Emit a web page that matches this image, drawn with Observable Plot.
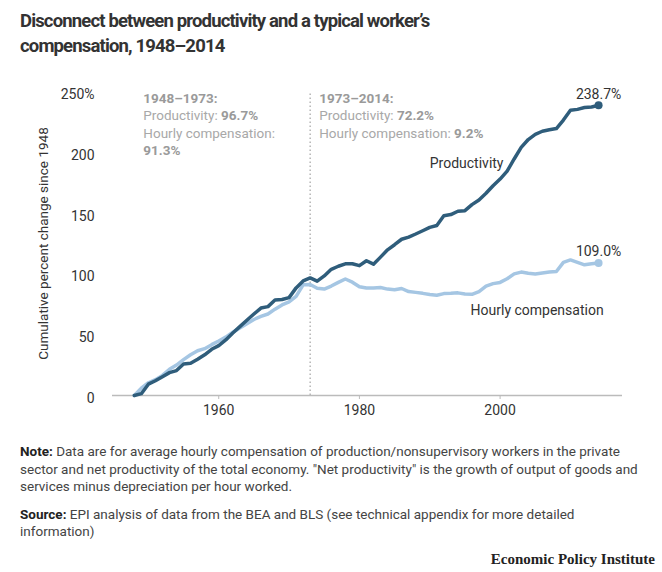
<!DOCTYPE html>
<html>
<head>
<meta charset="utf-8">
<script src="https://cdn.jsdelivr.net/npm/d3@7"></script>
<script src="https://cdn.jsdelivr.net/npm/@observablehq/plot@0.6"></script>
<style>
  html, body { margin: 0; padding: 0; background: #fff; }
  #wrap { position: relative; width: 662px; height: 572px; overflow: hidden; font-family: Roboto, "Open Sans", sans-serif; }
  #title { position: absolute; left: 20px; top: 9px; font-size: 18.5px; font-weight: 700; color: #333; line-height: 24.5px; letter-spacing: -0.85px; }
  #chart { position: absolute; left: 0; top: 70px; }
  #notes { position: absolute; left: 20px; top: 443px; font-size: 13.5px; color: #444; line-height: 17.5px; }
  #notes div { white-space: nowrap; }
  #notes b { color: #222; }
  #notes .gap { height: 10px; }
  #footer { position: absolute; right: 7px; top: 551px; font-family: "Liberation Serif", "DejaVu Serif", serif; font-weight: 700; font-size: 15px; color: #222; }
</style>
</head>
<body>
<div id="wrap">
  <div id="title">Disconnect between productivity and a typical worker’s<br>compensation, 1948–2014</div>
  <div id="chart"></div>
  <div id="notes">
    <div><b>Note:</b> Data are for average hourly compensation of production/nonsupervisory workers in the private</div>
    <div>sector and net productivity of the total economy. "Net productivity" is the growth of output of goods and</div>
    <div>services minus depreciation per hour worked.</div>
    <div class="gap"></div>
    <div><b>Source:</b> EPI analysis of data from the BEA and BLS (see technical appendix for more detailed</div>
    <div>information)</div>
  </div>
  <div id="footer">Economic Policy Institute</div>
</div>
<script>
// ---- Data (cumulative percent change since 1948) ----
const years = [
  1948, 1949, 1950, 1951, 1952, 1953, 1954, 1955, 1956, 1957,
  1958, 1959, 1960, 1961, 1962, 1963, 1964, 1965, 1966, 1967,
  1968, 1969, 1970, 1971, 1972, 1973, 1974, 1975, 1976, 1977,
  1978, 1979, 1980, 1981, 1982, 1983, 1984, 1985, 1986, 1987,
  1988, 1989, 1990, 1991, 1992, 1993, 1994, 1995, 1996, 1997,
  1998, 1999, 2000, 2001, 2002, 2003, 2004, 2005, 2006, 2007,
  2008, 2009, 2010, 2011, 2012, 2013, 2014
];
const productivity = [
  0.0, 1.5, 9.3, 12.1, 15.5, 18.8, 20.5, 25.9, 26.5, 29.8,
  33.5, 38.0, 41.0, 45.7, 51.4, 56.6, 61.9, 67.0, 71.9, 73.1,
  78.5, 78.9, 80.5, 88.5, 94.2, 96.7, 94.0, 98.3, 103.8, 106.3,
  108.3, 108.3, 106.8, 110.8, 108.0, 113.8, 119.8, 124.0, 128.5, 130.3,
  132.8, 135.5, 138.3, 139.8, 147.8, 148.8, 151.5, 152.0, 157.0, 160.8,
  166.3, 172.5, 178.0, 184.5, 194.5, 204.0, 210.5, 214.8, 217.3, 218.5,
  219.5, 226.5, 234.5, 235.3, 236.8, 237.3, 238.7
];
const hourlyCompensation = [
  0.0, 6.0, 10.5, 13.0, 16.5, 21.5, 25.0, 29.5, 33.5, 36.8,
  38.5, 41.8, 44.8, 48.0, 52.0, 55.5, 59.0, 62.5, 65.0, 67.0,
  71.0, 74.5, 77.0, 81.5, 91.0, 91.3, 88.2, 87.5, 90.0, 93.0,
  95.8, 93.2, 89.4, 88.4, 88.4, 88.8, 87.5, 87.0, 88.0, 85.5,
  84.8, 84.0, 83.0, 82.5, 83.8, 84.0, 84.4, 83.4, 83.2, 85.5,
  90.0, 92.0, 93.0, 96.0, 100.0, 101.5, 100.5, 100.0, 100.8, 101.5,
  102.0, 109.5, 111.5, 109.5, 107.5, 108.3, 109.0
];
const xTicks = [1960, 1980, 2000];
const yTicks = [0, 50, 100, 150, 200, 250];
const dividerYear = [1973];

// Period annotations
const periodStarts = [1948, 1973];
const periodLabels = ["1948–1973:", "1973–2014:"];
const periodProductivity = ["96.7%", "72.2%"];
const periodCompensation = ["91.3%", "9.2%"];

// ---- Build table ----
const rows = years.map((year, i) => ({year, productivity: productivity[i], compensation: hourlyCompensation[i]}));
const last = rows[rows.length - 1];

const prodColor = "#2f5d7b";
const compColor = "#a5c6e3";
const annoGray = "#a8a8a8";
const annoBold = "#9a9a9a";
const annoFont = 13.5;
const fontFamily = "Roboto, 'Open Sans', sans-serif";

// measure text widths for inline bold values
const ctx = document.createElement("canvas").getContext("2d");
ctx.font = `${annoFont}px Roboto`;
const w = (s) => ctx.measureText(s).width;

const annoDx = 9;
const lineDy = [7, 24.5, 42, 59.5];
const annoMarks = [];
periodStarts.forEach((start, i) => {
  const pos = [{x: start}];
  const base = {x: "x", frameAnchor: "top", textAnchor: "start", lineAnchor: "middle", fontSize: annoFont};
  annoMarks.push(Plot.text(pos, {...base, text: () => periodLabels[i], dx: annoDx, dy: lineDy[0], fill: annoBold, fontWeight: 700}));
  annoMarks.push(Plot.text(pos, {...base, text: () => "Productivity: ", dx: annoDx, dy: lineDy[1], fill: annoGray}));
  annoMarks.push(Plot.text(pos, {...base, text: () => periodProductivity[i], dx: annoDx + w("Productivity: "), dy: lineDy[1], fill: annoBold, fontWeight: 700}));
  if (i === 0) {
    annoMarks.push(Plot.text(pos, {...base, text: () => "Hourly compensation:", dx: annoDx, dy: lineDy[2], fill: annoGray}));
    annoMarks.push(Plot.text(pos, {...base, text: () => periodCompensation[i], dx: annoDx, dy: lineDy[3], fill: annoBold, fontWeight: 700}));
  } else {
    annoMarks.push(Plot.text(pos, {...base, text: () => "Hourly compensation: ", dx: annoDx, dy: lineDy[2], fill: annoGray}));
    annoMarks.push(Plot.text(pos, {...base, text: () => periodCompensation[i], dx: annoDx + w("Hourly compensation: "), dy: lineDy[2], fill: annoBold, fontWeight: 700}));
  }
});

const chart = Plot.plot({
  width: 662,
  height: 360,
  marginLeft: 112,
  marginRight: 40,
  marginTop: 21,
  marginBottom: 35,
  x: {domain: [1944.9, 2017.4]},
  y: {domain: [0, 250]},
  style: {fontFamily, fontSize: "14px", color: "#333", background: "transparent", overflow: "visible"},
  marks: [
    Plot.ruleX(dividerYear, {y1: 0, y2: 250, stroke: "#b5b5b5", strokeWidth: 1.5, strokeDasharray: "1.5,2.5"}),
    Plot.ruleY([0], {stroke: "#bbb", strokeWidth: 1.5}),
    Plot.axisX({ticks: xTicks, tickFormat: d => String(d), tickSize: 4, tickPadding: 6, stroke: "#bbb", fill: "#333", fontSize: 14, label: null}),
    Plot.axisY({ticks: yTicks, tickSize: 0, tickPadding: 18, tickFormat: d => d === 250 ? "250%" : String(d), dy: 3, fill: "#333", fontSize: 14, label: null}),
    Plot.text(["Cumulative percent change since 1948"], {frameAnchor: "left", textAnchor: "middle", rotate: -90, dx: -69, fontSize: 13.5, fill: "#333"}),
    ...annoMarks,
    Plot.lineY(rows, {x: "year", y: "compensation", stroke: compColor, strokeWidth: 3.5, strokeLinejoin: "round"}),
    Plot.lineY(rows, {x: "year", y: "productivity", stroke: prodColor, strokeWidth: 3.5, strokeLinejoin: "round"}),
    Plot.dot([last], {x: "year", y: "compensation", r: 4, fill: compColor}),
    Plot.dot([last], {x: "year", y: "productivity", r: 4, fill: prodColor}),
    Plot.text([last], {x: "year", y: "productivity", text: d => d.productivity.toFixed(1) + "%", dy: -11, fontSize: 14, fill: "#333"}),
    Plot.text([last], {x: "year", y: "compensation", text: d => d.compensation.toFixed(1) + "%", dy: -11, fontSize: 14, fill: "#333"}),
    Plot.text(["Productivity"], {x: 1990, y: 191, textAnchor: "start", fontSize: 14, fill: "#333"}),
    Plot.text(["Hourly compensation"], {x: 1995.8, y: 69.7, textAnchor: "start", fontSize: 14, fill: "#333"})
  ]
});
document.getElementById("chart").appendChild(chart);
</script>
</body>
</html>
